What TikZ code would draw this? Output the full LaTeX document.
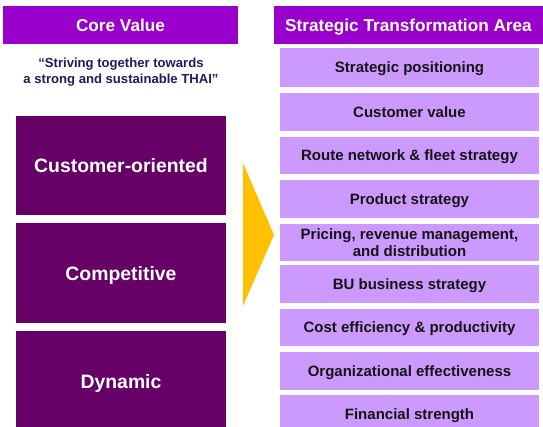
\documentclass[tikz,border=0pt]{standalone}
\usepackage{fontspec}
\setmainfont{Liberation Sans}
\definecolor{hdr}{HTML}{9900CC}
\definecolor{darkp}{HTML}{660066}
\definecolor{lightp}{HTML}{CC99FF}
\definecolor{arrowy}{HTML}{FFC000}
\definecolor{navy}{HTML}{1C1C5E}
\definecolor{boxtext}{HTML}{141414}
\tikzset{
  header/.style={fill=hdr, text=white, inner sep=0pt, text depth=0pt, font=\fontsize{17.2}{19}\selectfont\bfseries},
  corebox/.style={fill=darkp, text=white, inner sep=0pt, text depth=0pt, minimum width=210pt, minimum height=100pt, font=\fontsize{19.4}{22}\selectfont\bfseries},
  areabox/.style={fill=lightp, text=boxtext, inner sep=0pt, minimum width=259pt, align=center, font=\fontsize{15}{17}\selectfont\bfseries},
  onel/.style={text depth=0pt},
  quote/.style={text=navy, align=center, inner sep=0pt, font=\fontsize{13.1}{16}\selectfont\bfseries}
}
\begin{document}
\begin{tikzpicture}[x=1pt,y=-1pt]
\useasboundingbox (0,0) rectangle (543,427);
\clip (0,0) rectangle (543,427);
\fill[white] (0,0) rectangle (543,427);
% headers
\node[header, minimum width=235pt, minimum height=38pt] (cvh) at (120.5,25) {Core Value};
\node[header, minimum width=269pt, minimum height=38pt] (sth) at (408.5,25) {Strategic Transformation Area};
% quote
\node[quote] (q) at (121,72) {“Striving together towards\\a strong and sustainable THAI”};
% core value boxes
\node[corebox, minimum height=99pt] (c1) at (121,165.5) {Customer-oriented};
\node[corebox] (c2) at (121,273) {Competitive};
\node[corebox] (c3) at (121,381) {Dynamic};
% arrow
\fill[arrowy] (243,163) -- (274,235) -- (243,306) -- cycle;
% area boxes
\node[areabox, onel, minimum height=39pt] (a1) at (409.5,67.5) {Strategic positioning};
\node[areabox, onel, minimum height=38pt] (a2) at (409.5,112) {Customer value};
\node[areabox, onel, minimum height=37pt] (a3) at (409.5,155.5) {Route network \& fleet strategy};
\node[areabox, onel, minimum height=38pt] (a4) at (409.5,199) {Product strategy};
\node[areabox, minimum height=37pt] (a5) at (409.5,242.5) {Pricing, revenue management,\\and distribution};
\node[areabox, onel, minimum height=38pt] (a6) at (409.5,284) {BU business strategy};
\node[areabox, onel, minimum height=37pt] (a7) at (409.5,327.5) {Cost efficiency \& productivity};
\node[areabox, onel, minimum height=38pt] (a8) at (409.5,371) {Organizational effectiveness};
\node[areabox, onel, minimum height=38pt] (a9) at (409.5,414) {Financial strength};
\end{tikzpicture}
\end{document}
